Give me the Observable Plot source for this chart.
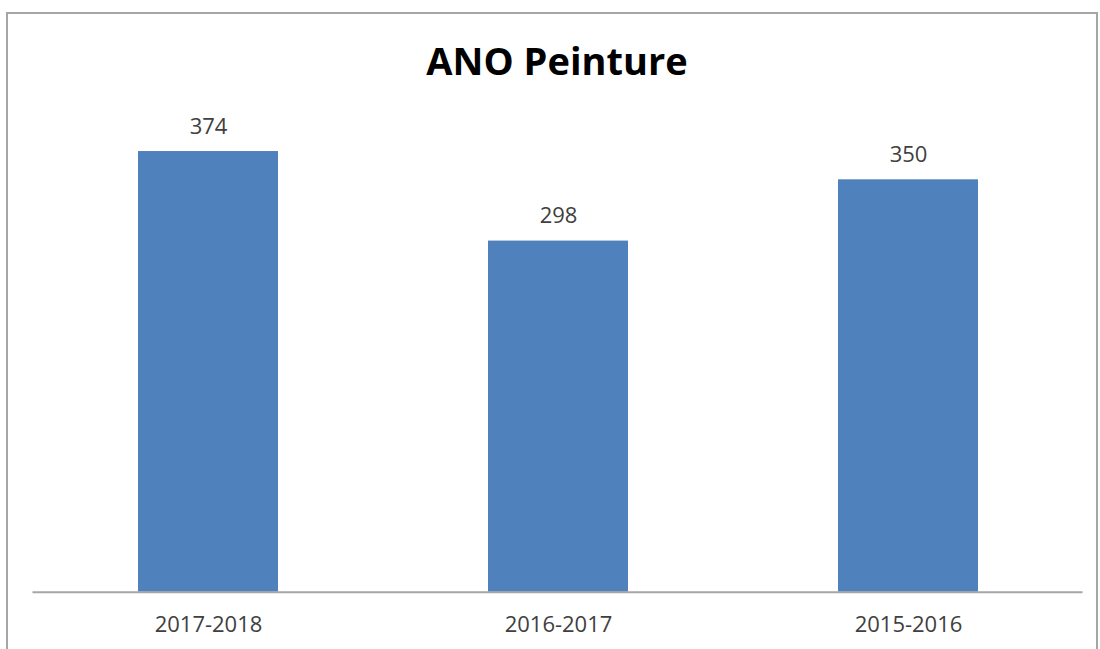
<!DOCTYPE html>
<html>
<head>
<meta charset="utf-8">
<script src="https://cdn.jsdelivr.net/npm/d3@7"></script>
<script src="https://cdn.jsdelivr.net/npm/@observablehq/plot@0.6"></script>
<style>
  html, body { margin: 0; padding: 0; background: #fff; overflow: hidden; }
  body { width: 1100px; height: 649px; position: relative; font-family: "Open Sans", sans-serif; }
  #frame { position: absolute; left: 6px; top: 12px; width: 1092px; height: 700px; border: 2px solid #a6a6a6; box-sizing: border-box; }
  #title { position: absolute; left: 7px; top: 41px; width: 1100px; text-align: center; font-size: 38px; line-height: 38px; font-weight: 700; color: #000; }
  #chart { position: absolute; left: 0; top: 100px; }
</style>
</head>
<body>
<div id="frame"></div>
<div id="title">ANO Peinture</div>
<div id="chart"></div>
<script>
const categories = ["2017-2018", "2016-2017", "2015-2016"];
const values = [374, 298, 350];

const data = categories.map((c, i) => ({category: c, value: values[i]}));

const chart = Plot.plot({
  width: 1100,
  height: 549,
  marginLeft: 32.5,
  marginRight: 17.5,
  marginTop: 20.4,
  marginBottom: 57.3,
  style: {fontFamily: "Open Sans, sans-serif", background: "transparent"},
  x: {domain: categories, paddingInner: 0.6, paddingOuter: 0.3, label: null},
  y: {domain: [0, 400], axis: null},
  marks: [
    Plot.barY(data, {x: "category", y: "value", fill: "#4f81bd"}),
    Plot.ruleY([0], {stroke: "#a6a6a6", strokeWidth: 2}),
    Plot.text(data, {x: "category", y: "value", text: d => String(d.value), dy: -25, fill: "#404040", fontSize: 22}),
    Plot.axisX({tickSize: 0, tickPadding: 24, fontSize: 22, color: "#404040", label: null})
  ]
});
document.getElementById("chart").appendChild(chart);
</script>
</body>
</html>
